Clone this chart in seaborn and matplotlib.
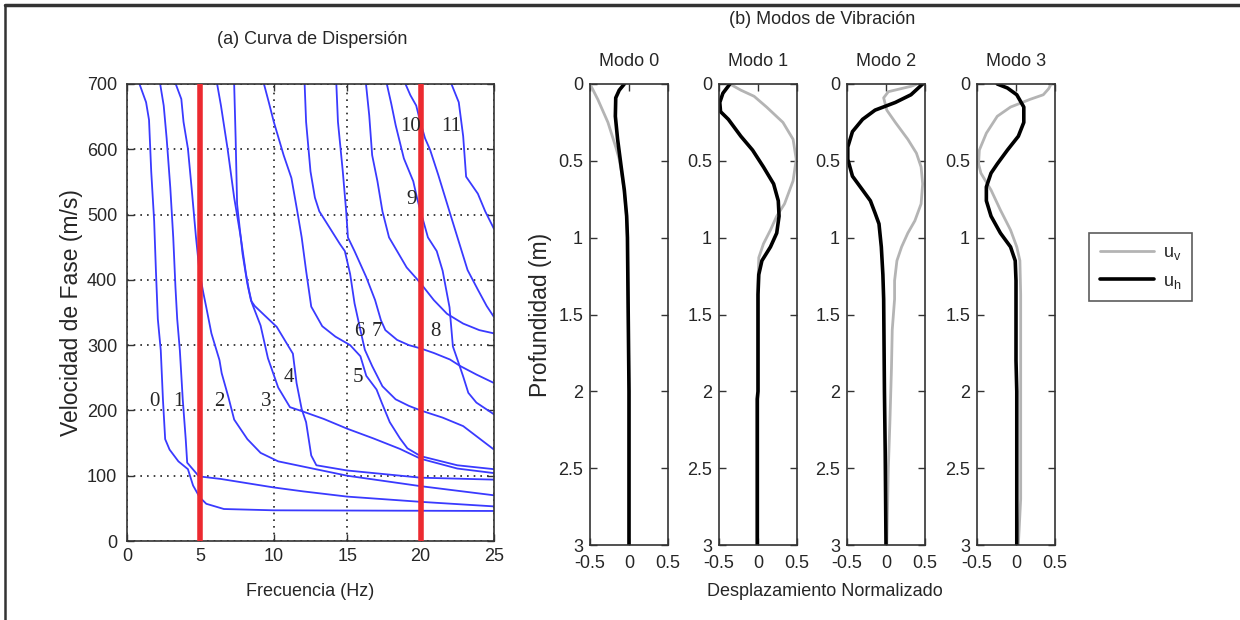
import numpy as np
import pandas as pd
import seaborn as sns
from matplotlib import pyplot as plt
from matplotlib.lines import Line2D

# (a) dispersion curves: (frequency Hz, phase velocity m/s), one list per mode
c0 = [(0.85, 700), (1.3, 672), (1.5, 645), (1.65, 566), (1.85, 490), (1.97, 414), (2.1, 340), (2.3, 292),
      (2.45, 216), (2.6, 156), (2.9, 140), (3.5, 122), (4.15, 110), (4.5, 85), (4.95, 67), (5.4, 57),
      (6.6, 49), (10, 47), (25, 46)]
c1 = [(2.26, 700), (2.5, 667), (2.7, 617), (2.95, 541), (3.15, 465), (3.3, 389), (3.42, 340), (3.6, 292),
      (3.8, 216), (4.0, 156), (4.1, 120), (4.9, 99), (6.4, 95), (10, 82), (12, 76), (15, 68), (20, 60),
      (25, 53)]
c2 = [(3.32, 700), (3.7, 677), (3.85, 642), (4.15, 601), (4.4, 541), (4.7, 465), (4.95, 410), (5.2, 380),
      (5.4, 358), (5.75, 318), (6.3, 277), (6.45, 257), (6.9, 221), (7.3, 186), (8.2, 156), (9.1, 135),
      (10.3, 122), (12, 114), (15, 100), (20, 84), (25, 70)]
c3 = [(6.14, 700), (6.4, 667), (6.85, 601), (7.3, 526), (7.75, 465), (8.1, 410), (8.3, 385), (8.5, 365),
      (9.1, 330), (9.6, 280), (10.3, 235), (11.1, 205), (11.9, 199), (13.4, 187), (15, 172), (16.8, 157),
      (18.6, 141), (20, 126), (22.5, 111), (25, 104)]
c4 = [(7.3, 700), (7.4, 617), (7.5, 516), (7.87, 440), (8.2, 394), (8.45, 368), (8.7, 360), (9.4, 345),
      (10.2, 328), (11.3, 287), (11.55, 242), (11.9, 202), (12.2, 182), (12.55, 131), (12.9, 116),
      (15, 108), (20, 97), (25, 94)]
c5 = [(9.33, 700), (9.66, 672), (10.0, 642), (10.67, 591), (11.2, 556), (11.6, 505), (11.9, 465),
      (12.2, 414), (12.55, 359), (13.3, 329), (14.2, 313), (15.2, 300), (15.9, 283), (16.3, 253),
      (17.0, 232), (17.35, 212), (17.9, 182), (18.6, 157), (19.1, 142), (20.0, 130), (22.5, 116), (25, 110)]
c6 = [(12.1, 700), (12.2, 642), (12.5, 566), (12.8, 526), (13.1, 505), (13.8, 480), (14.5, 455),
      (14.84, 444), (15.2, 409), (15.5, 364), (15.9, 323), (16.2, 293), (16.7, 268), (17.4, 237),
      (18.3, 217), (19.2, 207), (20.0, 200), (21.5, 189), (22.9, 176), (25, 140)]
c7 = [(14.26, 700), (14.37, 642), (14.7, 566), (14.93, 505), (15.05, 465), (15.5, 444), (16.3, 404),
      (16.9, 369), (17.3, 338), (17.6, 323), (18.4, 308), (19.2, 300), (20.0, 295), (20.9, 288),
      (22.0, 278), (22.7, 268), (23.8, 255), (25, 242)]
c8 = [(16.28, 700), (16.5, 652), (16.7, 591), (17.06, 551), (17.4, 505), (17.85, 465), (18.4, 444),
      (19.05, 419), (19.84, 399), (20.2, 389), (20.9, 369), (21.8, 348), (22.9, 333), (24.0, 323), (25, 318)]
c9 = [(17.7, 700), (18.0, 670), (18.3, 637), (18.86, 586), (19.5, 551), (19.75, 526), (20.0, 505),
      (20.5, 465), (21.1, 444), (21.5, 414), (21.97, 358), (22.2, 298), (22.6, 272), (22.9, 252),
      (23.25, 227), (23.8, 212), (25, 194)]
c10 = [(18.97, 700), (19.3, 683), (19.7, 667), (19.98, 642), (20.3, 617), (20.65, 599), (21.2, 561),
       (22.1, 495), (22.8, 444), (23.2, 415), (23.9, 385), (24.5, 360), (25, 343)]
c11 = [(22.1, 700), (22.6, 672), (22.9, 620), (23.1, 558), (23.9, 532), (24.4, 505), (25, 478)]
curves = [c0, c1, c2, c3, c4, c5, c6, c7, c8, c9, c10, c11]

# mode labels: (text, frequency, velocity)
mode_labels = [('0', 1.9, 213), ('1', 3.5, 213), ('2', 6.3, 213), ('3', 9.5, 213), ('4', 11.0, 250),
               ('5', 15.7, 250), ('6', 15.8, 321), ('7', 17.0, 321), ('8', 21.0, 321), ('9', 19.4, 523),
               ('10', 19.3, 635), ('11', 22.1, 635)]
red_freqs = [5, 20]

# (b) mode shapes: (normalised displacement, depth m)
m0_uv = [(-0.5, 0), (-0.40, 0.10), (-0.27, 0.25), (-0.17, 0.41), (-0.125, 0.49), (-0.10, 0.56),
         (-0.06, 0.70), (-0.03, 0.87), (-0.02, 1.0), (0.0, 2.0), (0.0, 3.0)]
m0_uh = [(-0.06, 0), (-0.125, 0.04), (-0.17, 0.09), (-0.175, 0.21), (-0.146, 0.36), (-0.10, 0.54),
         (-0.06, 0.69), (-0.03, 0.86), (-0.02, 1.0), (-0.01, 1.5), (0.0, 2.0), (0.0, 3.0)]
m1_uv = [(-0.36, 0), (-0.22, 0.04), (-0.05, 0.08), (0.11, 0.15), (0.32, 0.25), (0.45, 0.36), (0.49, 0.49),
         (0.45, 0.63), (0.34, 0.78), (0.24, 0.86), (0.16, 0.95), (0.07, 1.04), (0.01, 1.13), (0.0, 1.3),
         (0.0, 3.0)]
m1_uh = [(-0.36, 0), (-0.45, 0.06), (-0.49, 0.12), (-0.48, 0.18), (-0.38, 0.23), (-0.22, 0.34),
         (-0.07, 0.43), (0.07, 0.54), (0.20, 0.65), (0.26, 0.76), (0.27, 0.86), (0.24, 0.97), (0.16, 1.06),
         (0.05, 1.15), (0.01, 1.24), (0.0, 1.37), (0.0, 2.0), (-0.01, 2.05), (-0.01, 3.0)]
m2_uv = [(0.40, 0.0), (0.32, 0.015), (0.03, 0.05), (-0.03, 0.09), (0.01, 0.17), (0.12, 0.25), (0.28, 0.36),
         (0.39, 0.45), (0.45, 0.54), (0.47, 0.65), (0.45, 0.78), (0.37, 0.89), (0.28, 0.97), (0.20, 1.06),
         (0.14, 1.15), (0.11, 1.28), (0.11, 1.4), (0.08, 1.6), (0.07, 1.85), (0.05, 2.2), (0.03, 2.5),
         (0.01, 3.0)]
m2_uh = [(0.47, 0), (0.32, 0.07), (0.12, 0.12), (-0.14, 0.17), (-0.30, 0.23), (-0.43, 0.31), (-0.49, 0.41),
         (-0.49, 0.49), (-0.43, 0.60), (-0.30, 0.69), (-0.20, 0.76), (-0.14, 0.84), (-0.09, 0.91),
         (-0.06, 1.06), (-0.04, 1.24), (-0.03, 1.4), (-0.02, 2.0), (-0.01, 2.4), (0.0, 3.0)]
m3_uv = [(0.45, 0.0), (0.42, 0.03), (0.35, 0.07), (0.18, 0.10), (-0.07, 0.15), (-0.24, 0.21), (-0.38, 0.32),
         (-0.47, 0.43), (-0.48, 0.52), (-0.45, 0.58), (-0.32, 0.69), (-0.20, 0.82), (-0.07, 0.95),
         (0.01, 1.06), (0.05, 1.15), (0.06, 1.37), (0.06, 2.7), (0.03, 3.0)]
m3_uh = [(-0.24, 0), (-0.11, 0.026), (0.01, 0.07), (0.10, 0.15), (0.10, 0.25), (0.03, 0.34), (-0.11, 0.43),
         (-0.24, 0.52), (-0.32, 0.58), (-0.38, 0.67), (-0.38, 0.76), (-0.32, 0.86), (-0.20, 0.97),
         (-0.07, 1.06), (-0.01, 1.15), (0.0, 1.28), (0.0, 1.8), (0.01, 2.0), (0.01, 3.0)]
modes = [('Modo 0', m0_uv, m0_uh), ('Modo 1', m1_uv, m1_uh), ('Modo 2', m2_uv, m2_uh), ('Modo 3', m3_uv, m3_uh)]

depth_ticks = [0, 0.5, 1, 1.5, 2, 2.5, 3]
depth_labels = ['0', '0.5', '1', '1.5', '2', '2.5', '3']
disp_ticks = [-0.5, 0, 0.5]
disp_labels = ['-0.5', '0', '0.5']

sns.set_style('white')
plt.rcParams['font.family'] = ['Liberation Sans', 'DejaVu Sans']
plt.rcParams['mathtext.fontset'] = 'custom'
plt.rcParams['mathtext.rm'] = 'Liberation Sans'

FS = 13
EDGE = '#333333'


def matlab_box(ax):
    for s in ax.spines.values():
        s.set_linewidth(1.2)
        s.set_color(EDGE)
        s.set_visible(True)
    ax.tick_params(direction='in', top=True, right=True, bottom=True, left=True,
                   length=5, width=1, color=EDGE, labelsize=FS, pad=5)


fig = plt.figure(figsize=(12.4, 6.2), dpi=100)
W, H = 1240, 620

# ---- (a) dispersion ----
ax = fig.add_axes([127 / W, 1 - 541 / H, 367 / W, 457 / H])
df = pd.DataFrame([(i, f, v) for i, c in enumerate(curves) for f, v in c], columns=['curve', 'f', 'v'])
sns.lineplot(data=df, x='f', y='v', units='curve', estimator=None, sort=False,
             color='#3a3aff', lw=1.3, ax=ax)
for f in red_freqs:
    ax.axvline(f, color='#ec2a30', lw=4, zorder=5)
for t, f, v in mode_labels:
    ax.text(f, v, t, family=['Liberation Serif', 'DejaVu Serif'], fontsize=15,
            ha='center', va='center', zorder=6)
ax.set_xlim(0, 25)
ax.set_ylim(0, 700)
ax.set_xticks(range(0, 26, 5))
ax.set_yticks(range(0, 701, 100))
ax.grid(True, ls=(0, (1, 3)), color='#222222', lw=1.2)
matlab_box(ax)
ax.tick_params(axis='y', pad=7)
ax.set_xlabel('Frecuencia (Hz)', fontsize=FS, labelpad=13)
ax.set_ylabel('Velocidad de Fase (m/s)', fontsize=16.5, labelpad=3)
fig.text(312 / W, 1 - 40 / H, '(a) Curva de Dispersión', fontsize=FS, ha='center', va='center')

# ---- (b) mode shapes ----
lefts = [590, 719, 847, 977]
for k, (name, uv, uh) in enumerate(modes):
    axm = fig.add_axes([lefts[k] / W, 1 - 545 / H, 78 / W, 461 / H])
    uv_df = pd.DataFrame(uv, columns=['u', 'z'])
    uh_df = pd.DataFrame(uh, columns=['u', 'z'])
    sns.lineplot(data=uv_df, x='u', y='z', sort=False, estimator=None, color='#b4b4b4', lw=2, ax=axm)
    sns.lineplot(data=uh_df, x='u', y='z', sort=False, estimator=None, color='black', lw=2.6, ax=axm)
    axm.set_xlim(-0.5, 0.5)
    axm.set_ylim(3, 0)
    axm.set_xticks(disp_ticks)
    axm.set_xticklabels(disp_labels)
    axm.set_yticks(depth_ticks)
    axm.set_yticklabels(depth_labels)
    axm.set_xlabel('')
    axm.set_ylabel('')
    matlab_box(axm)
    axm.tick_params(axis='x', pad=7)
    axm.tick_params(axis='y', pad=5)
    axm.set_title(name, fontsize=FS, pad=13)
    if k == 0:
        axm.set_ylabel('Profundidad (m)', fontsize=16.5, labelpad=4)

fig.text(825 / W, 1 - 591 / H, 'Desplazamiento Normalizado', fontsize=FS, ha='center', va='center')
fig.text(822 / W, 1 - 20 / H, '(b) Modos de Vibración', fontsize=FS, ha='center', va='center')

handles = [Line2D([], [], color='#b4b4b4', lw=2), Line2D([], [], color='black', lw=2.6)]
leg = fig.legend(handles, [r'u$_\mathrm{v}$', r'u$_\mathrm{h}$'], loc='upper left',
                 bbox_to_anchor=(1089 / W, 1 - 233 / H), borderaxespad=0, fontsize=FS, frameon=True,
                 fancybox=False, handlelength=3.0, borderpad=0.6, labelspacing=0.6, handletextpad=0.5)
leg.get_frame().set_edgecolor(EDGE)
leg.get_frame().set_linewidth(1.2)

# outer frame lines (top and left)
fig.add_artist(Line2D([5 / W, 1], [1 - 5 / H, 1 - 5 / H], transform=fig.transFigure, color=EDGE, lw=2.5))
fig.add_artist(Line2D([5 / W, 5 / W], [0, 1 - 5 / H], transform=fig.transFigure, color=EDGE, lw=1.8))

fig.savefig('out.png', dpi=100)
plt.close(fig)
